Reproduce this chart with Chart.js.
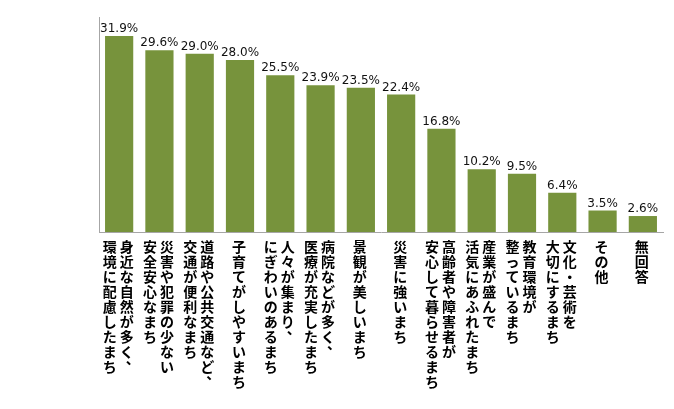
<!DOCTYPE html>
<html>
<head>
<meta charset="utf-8">
<script src="https://cdn.jsdelivr.net/npm/chart.js@4/dist/chart.umd.min.js"></script>
<style>
html,body{margin:0;padding:0;background:#fff;}
#wrap{width:674px;height:409px;position:relative;}
</style>
</head>
<body>
<div id="wrap"><canvas id="c"></canvas></div>
<script>
const categories = [
  ["身近な自然が多く、","環境に配慮したまち"],
  ["災害や犯罪の少ない","安全安心なまち"],
  ["道路や公共交通など、","交通が便利なまち"],
  ["子育てがしやすいまち"],
  ["人々が集まり、","にぎわいのあるまち"],
  ["病院などが多く、","医療が充実したまち"],
  ["景観が美しいまち"],
  ["災害に強いまち"],
  ["高齢者や障害者が","安心して暮らせるまち"],
  ["産業が盛んで","活気にあふれたまち"],
  ["教育環境が","整っているまち"],
  ["文化・芸術を","大切にするまち"],
  ["その他"],
  ["無回答"]
];
const values = [31.9, 29.6, 29.0, 28.0, 25.5, 23.9, 23.5, 22.4, 16.8, 10.2, 9.5, 6.4, 3.5, 2.6];
const yMin = 0, yMax = 35;

const valueLabels = {
  id: 'valueLabels',
  afterDatasetsDraw(chart) {
    const ctx = chart.ctx;
    const meta = chart.getDatasetMeta(0);
    ctx.save();
    ctx.font = '12px "DejaVu Sans"';
    ctx.fillStyle = '#111';
    ctx.textAlign = 'center';
    ctx.textBaseline = 'bottom';
    meta.data.forEach((bar, i) => {
      ctx.fillText(values[i].toFixed(1) + '%', bar.x, bar.y - 1);
    });
    ctx.restore();
  }
};

const verticalLabels = {
  id: 'verticalLabels',
  afterDraw(chart) {
    const ctx = chart.ctx;
    const xs = chart.scales.x;
    const ys = chart.scales.y;
    const top = ys.bottom + 8;
    const colGap = 17, pitch = 15;
    ctx.save();
    ctx.font = 'bold 14px "Noto Sans CJK JP"';
    ctx.fillStyle = '#000';
    ctx.textAlign = 'center';
    ctx.textBaseline = 'top';
    categories.forEach((lines, i) => {
      const cx = xs.getPixelForValue(i) - 1;
      const n = lines.length;
      lines.forEach((line, j) => {
        const x = cx + ((n - 1) / 2 - j) * colGap;
        Array.from(line).forEach((ch, k) => {
          let dx = 0, dy = 0;
          if (ch === '、') { dx = 6; dy = -8; }
          ctx.fillText(ch, x + dx, top + k * pitch + dy);
        });
      });
    });
    ctx.restore();
  }
};

new Chart(document.getElementById('c'), {
  type: 'bar',
  data: {
    labels: categories.map(l => l.join('')),
    datasets: [{
      data: values,
      backgroundColor: '#77933C',
      barPercentage: 0.7,
      categoryPercentage: 1.0
    }]
  },
  options: {
    responsive: true,
    maintainAspectRatio: false,
    animation: false,
    layout: { padding: { left: 99, right: 11, top: 17, bottom: 177 } },
    plugins: { legend: { display: false }, tooltip: { enabled: false } },
    scales: {
      x: {
        ticks: { display: false },
        grid: { display: false, drawTicks: false },
        border: { display: true, color: '#a6a6a6', width: 1 }
      },
      y: {
        min: yMin, max: yMax,
        ticks: { display: false },
        grid: { display: false, drawTicks: false },
        border: { display: true, color: '#a6a6a6', width: 1 }
      }
    }
  },
  plugins: [valueLabels, verticalLabels]
});
</script>
</body>
</html>
